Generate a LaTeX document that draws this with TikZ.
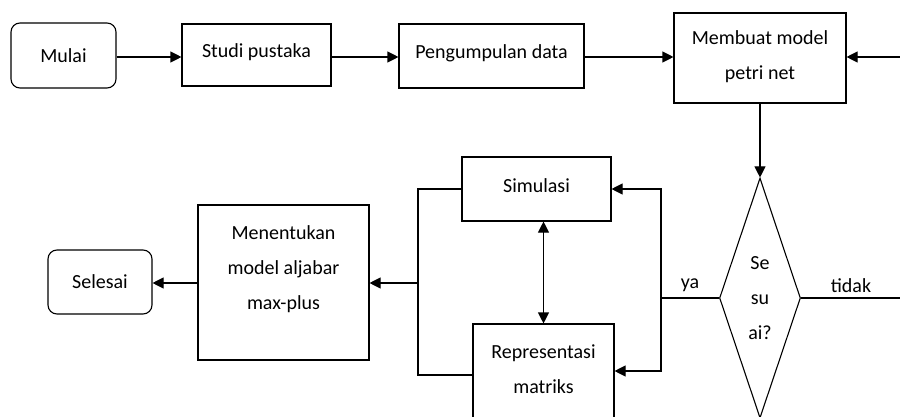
\documentclass[tikz,border=0pt]{standalone}
\usepackage{fontspec}
\setmainfont{Carlito}
\usetikzlibrary{shapes.geometric,arrows.meta}
\begin{document}
\begin{tikzpicture}[x=1pt,y=-1pt,
  every node/.style={font=\fontsize{20}{35}\selectfont, text=black},
  box/.style={draw, line width=1.1pt, inner sep=0pt, align=center},
  term/.style={box, rounded corners=9pt},
  txt/.style={align=center, inner sep=0pt},
  line/.style={line width=1.1pt},
  arr/.style={line, -{Triangle[length=11pt,width=11pt]}}]
\useasboundingbox (0,0) rectangle (900,417);

% top row
\node[term, minimum width=105pt, minimum height=65pt] (mulai) at (63.5,55.5) {Mulai};
\node[box, minimum width=149pt, minimum height=62pt] (studi) at (256.5,55) {};
\node[txt] (studitxt) at (256.5,52) {Studi pustaka};
\node[box, minimum width=185pt, minimum height=64pt] (pengum) at (491.5,56) {};
\node[txt] (pengumtxt) at (491.5,53) {Pengumpulan data};
\node[box, minimum width=172pt, minimum height=90pt] (membuat) at (760,58) {};
\node[txt] (membuattxt) at (760,57) {Membuat model\\petri net};
\coordinate (rin) at (900,57);

\draw[arr] (mulai.east |- 0,57) -- (studi.west |- 0,57);
\draw[arr] (studi.east |- 0,57) -- (pengum.west |- 0,57);
\draw[arr] (pengum.east |- 0,57) -- (membuat.west |- 0,57);
\draw[arr] (rin) -- (rin -| membuat.east);

% decision
\node[diamond, draw, line width=1.1pt, inner sep=0pt, aspect=0.34, minimum width=81pt, minimum height=240pt] (dec) at (760,298) {};
\node[txt] (dectxt) at (760,298) {Se\\su\\ai?};
\draw[arr] (membuat.south) -- (dec.north);

\coordinate (tout) at (900,298);
\coordinate (yj) at (661,298);
\draw[line] (dec.east) -- (tout);
\draw[line] (dec.west) -- (yj);
\node[txt] (tidak) at (851,286) {tidak};
\node[txt] (ya) at (690,285) {ya};

% simulation / representation
\node[box, minimum width=149pt, minimum height=64pt] (sim) at (536.5,189) {};
\node[txt] (simtxt) at (536.5,186) {Simulasi};
\node[box, minimum width=141pt, minimum height=106pt] (rep) at (543.5,377) {};
\node[txt] (reptxt) at (543.5,369.5) {Representasi\\matriks};

\draw[arr] (yj) |- (sim.east);
\draw[arr] (yj) |- ([yshift=6pt]rep.east);
\draw[line, {Triangle[length=11pt,width=11pt]}-{Triangle[length=11pt,width=11pt]}] (sim.south -| rep.north) -- (rep.north);

% left part
\coordinate (lx) at (418,283);
\draw[line] (sim.west) -| (lx) |- ([yshift=2pt]rep.west);

\node[box, minimum width=171pt, minimum height=155pt] (ment) at (283.5,282.5) {};
\node[txt] (menttxt) at (283.5,269) {Menentukan\\model aljabar\\max-plus};
\node[term, minimum width=104pt, minimum height=64pt] (sel) at (100,282) {Selesai};

\draw[arr] (lx) -- (lx -| ment.east);
\draw[arr] (ment.west |- 0,283) -- (sel.east |- 0,283);
\end{tikzpicture}
\end{document}
